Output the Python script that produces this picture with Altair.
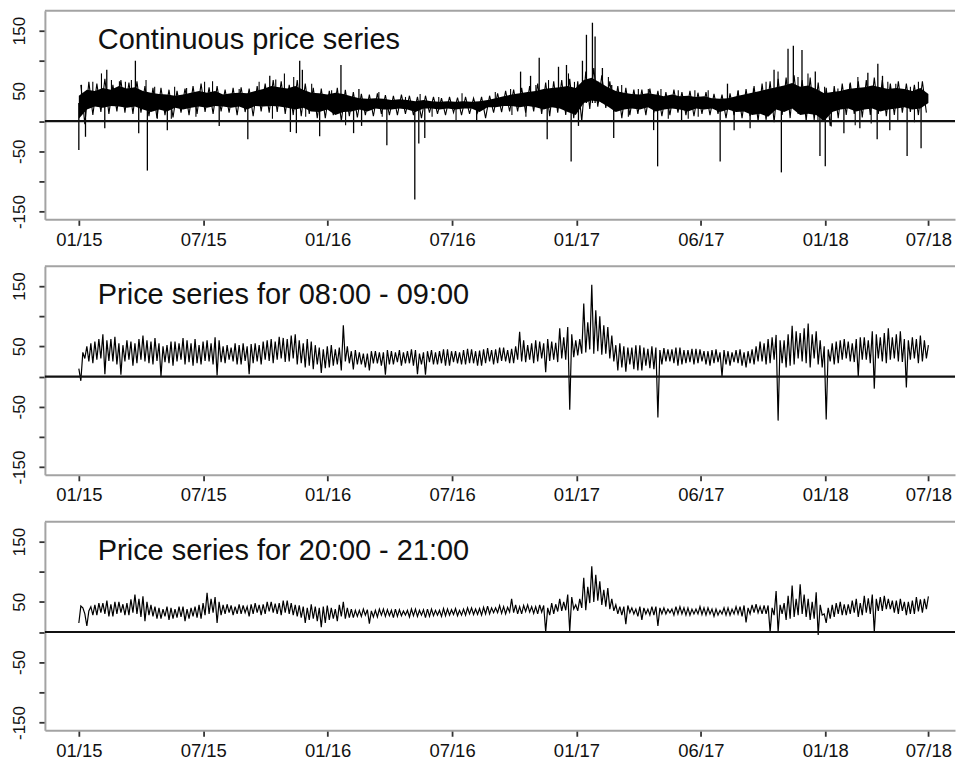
import altair as alt
import pandas as pd

# ---------------- data ----------------
TITLES = ["Continuous price series",
          "Price series for 08:00 - 09:00",
          "Price series for 20:00 - 21:00"]
TICK_POS = [0, 187, 374, 561, 748, 935, 1122, 1277]
TICK_LABELS = ["01/15", "07/15", "01/16", "07/16", "01/17", "06/17", "01/18", "07/18"]
Y_TICKS = [-150, -100, -50, 0, 50, 100, 150]
N_DAYS = 1277

# panel 1: dense hourly band (upper / lower edge of the solid core)
hi1 = [42, 52, 50, 55, 52, 58, 54, 56, 50, 47, 45, 44, 42, 44, 47, 50, 47, 50, 44, 46,
       47, 46, 50, 53, 58, 56, 54, 58, 52, 47, 46, 44, 47, 45, 41, 38, 37, 38, 37, 35,
       36, 35, 33, 35, 33, 32, 33, 32, 33, 32, 33, 35, 38, 41, 44, 46, 48, 50, 53, 55,
       56, 58, 55, 68, 72, 64, 56, 50, 47, 45, 44, 46, 44, 41, 44, 41, 42, 40, 41, 38,
       37, 38, 41, 44, 47, 50, 53, 56, 59, 63, 57, 59, 53, 46, 48, 50, 53, 55, 56, 59,
       56, 53, 55, 53, 50, 55, 45]
lo1 = [4, 19, 24, 22, 25, 24, 22, 24, 19, 15, 19, 16, 22, 19, 22, 24, 22, 25, 24, 22,
       24, 19, 25, 24, 25, 24, 22, 19, 22, 16, 15, 19, 10, 15, 16, 19, 16, 21, 19, 19,
       21, 19, 15, 21, 21, 19, 21, 19, 21, 21, 15, 23, 23, 25, 25, 23, 25, 23, 19, 23,
       21, 15, 10, 30, 34, 32, 24, 15, 19, 21, 19, 23, 16, 19, 21, 19, 16, 21, 19, 21,
       15, 19, 15, 16, 10, 12, 7, 19, 15, 21, 10, 12, 10, 0, 15, 19, 21, 16, 19, 21,
       16, 19, 21, 23, 19, 21, 30]
# ragged outer edge of the hourly band (upper / lower tips between core samples)
up1 = [60, 65, 62, 70, 60, 68, 64, 66, 58, 55, 55, 52, 50, 54, 58, 62, 56, 58, 52, 55,
       56, 54, 58, 62, 68, 66, 60, 68, 62, 55, 54, 50, 55, 52, 48, 45, 44, 46, 43, 42,
       44, 42, 40, 42, 40, 38, 40, 39, 40, 38, 40, 42, 46, 50, 52, 55, 58, 62, 64, 66,
       68, 70, 66, 82, 88, 76, 66, 58, 55, 52, 52, 54, 50, 48, 52, 48, 50, 47, 48, 45,
       44, 46, 50, 53, 58, 62, 66, 70, 72, 76, 68, 72, 64, 55, 58, 62, 64, 66, 68, 72,
       68, 62, 66, 62, 60, 66]
dn1 = [-5, 10, 15, 12, 16, 14, 12, 14, 8, 5, 10, 6, 14, 10, 12, 15, 12, 16, 14, 10,
       15, 8, 16, 14, 15, 12, 10, 8, 12, 5, 5, 10, 0, 8, 6, 10, 8, 12, 10, 10,
       12, 10, 5, 14, 12, 10, 14, 10, 12, 14, 5, 14, 15, 16, 16, 14, 16, 12, 8, 14,
       10, 5, 0, 20, 24, 22, 15, 5, 10, 12, 10, 14, 8, 10, 14, 10, 8, 12, 10, 12,
       5, 10, 5, 8, 0, 4, -2, 10, 5, 12, 0, 2, 0, -8, 5, 10, 12, 6, 10, 12,
       8, 10, 14, 15, 10, 14]
# large spikes of the hourly series (day index, price)
spike_day = [0, 10, 39, 42, 85, 90, 103, 133, 211, 254, 287, 318, 327, 332, 336, 362, 394, 413,
             421, 425, 463, 505, 511, 520, 598, 664, 679, 692, 704, 721, 733, 740, 751, 757,
             763, 772, 776, 787, 801, 804, 864, 870, 906, 964, 975, 985, 1009, 1045, 1056,
             1066, 1074, 1087, 1107, 1114, 1122, 1150, 1174, 1186, 1200, 1201, 1208, 1219,
             1245, 1266]
spike_val = [-48, -26, -12, 85, 100, -20, -82, -15, -8, -30, 75, -18, -20, 100, 85, -25, 93, -20,
             53, -8, -40, -130, -37, -28, 2, 82, 75, 105, -30, 90, 93, -67, -8, 100,
             143, 163, 140, 88, 60, -28, -15, -75, 0, -67, 62, -15, -12, 85, -85,
             120, 125, 118, 82, -58, -75, -20, -12, 80, -30, 95, 75, -15,
             -58, -45]
# smaller hairs sticking out of the band
hair_day = [4, 21, 34, 49, 61, 70, 79, 101, 114, 144, 162, 189, 201, 241, 271, 296, 309, 323,
            350, 380, 118, 139, 176, 291, 341, 401, 451, 491, 513, 541, 576, 626, 649, 687,
            706, 736, 745, 781, 796, 816, 841, 456, 531, 567, 651, 672, 826, 856, 875, 901,
            926, 946, 991, 1014, 1033, 1051, 1081, 1096, 1121, 1141, 1159, 1171, 1216, 1228,
            1250, 1262, 886, 916, 931, 1033, 1111, 1131, 1167, 1191, 1231, 1256]
hair_val = [60, 65, 79, 68, 66, 65, 68, 68, 57, 57, 55, 65, 66, 53, 65, 69, 79, 73,
            62, 51, 4, 4, 7, 4, 7, -7, 48, 40, 45, 40, 46, 48, 53, 60,
            68, 79, 65, 65, 73, 60, 53, 7, 7, 2, 10, 7, 7, 53, 53, 51,
            51, 51, 51, 54, 65, 82, 73, 79, 57, 54, 62, 73, 65, 62,
            57, 65, 4, 4, 7, 2, 0, -9, -7, -4, 2, -2]
SPIKE_BASE = 30

# panel 2: 08:00-09:00 daily series, four readings per sampling step
hi2 = [13, 50, 58, 70, 62, 55, 60, 55, 68, 58, 55, 52, 58, 64, 55, 52, 60, 65, 50, 48,
       52, 50, 55, 58, 62, 66, 62, 70, 55, 58, 48, 50, 45, 85, 42, 40, 38, 42, 40, 42,
       44, 42, 44, 40, 44, 42, 45, 42, 44, 45, 43, 47, 45, 48, 46, 74, 52, 60, 55, 58,
       80, 82, 60, 121, 152, 100, 82, 52, 50, 48, 52, 46, 48, 47, 45, 48, 44, 46, 42, 44,
       40, 42, 44, 40, 45, 58, 62, 69, 60, 84, 72, 88, 75, 50, 55, 60, 58, 62, 65, 75,
       65, 80, 70, 62, 65, 68, 52]
lo2 = [-7, 25, 28, 4, 25, 3, 28, 22, 25, 20, 0, 22, 25, 20, 18, 20, 25, 2, 22, 25,
       20, 4, 25, 28, 22, 30, 25, 20, 15, 12, 6, 15, 20, 25, 12, 20, 10, 22, 3, 20,
       18, 22, 4, 3, 20, 22, 18, 22, 20, 22, 18, 25, 22, 25, 22, 25, 28, 25, 7, 28,
       30, -55, 35, 40, 38, 36, 30, 10, 8, 12, 10, 14, -68, 25, 22, 20, 24, 22, 20, 22,
       0, 18, 22, 15, 20, 25, 22, -73, 15, 20, 25, 15, 20, -71, 20, 28, 25, 0, 28, -20,
       25, 28, 25, -18, 30, 25]
hiB2 = [40, 55, 62, 60, 66, 52, 58, 62, 60, 64, 50, 58, 55, 60, 62, 58, 55, 60, 52, 55,
        55, 54, 52, 60, 58, 64, 68, 60, 62, 52, 45, 52, 48, 50, 44, 38, 42, 40, 44, 40,
        40, 45, 38, 42, 40, 45, 42, 40, 46, 42, 45, 44, 48, 44, 50, 60, 55, 58, 62, 56,
        65, 70, 62, 90, 110, 85, 68, 55, 48, 52, 48, 50, 44, 45, 48, 44, 46, 45, 42, 45,
        44, 40, 45, 42, 50, 55, 65, 60, 70, 75, 80, 70, 60, 45, 58, 62, 55, 65, 60, 70,
        72, 65, 75, 60, 62, 60]
loB2 = [30, 22, 30, 26, 20, 25, 18, 28, 22, 26, 24, 18, 28, 24, 22, 26, 20, 24, 28, 20,
        26, 22, 20, 26, 28, 24, 30, 22, 18, 20, 14, 18, 10, 22, 20, 15, 22, 18, 20, 24,
        22, 18, 20, 24, 20, 18, 24, 20, 22, 18, 22, 20, 26, 22, 28, 24, 22, 30, 26, 24,
        28, 32, 38, 45, 42, 38, 25, 15, 20, 10, 18, 12, 20, 25, 18, 22, 20, 25, 18, 24,
        20, 24, 18, 22, 25, 20, 28, 22, 18, 30, 22, 30, 15, 25, 22, 30, 24, 28, 22, 30,
        22, 30, 24, 28, 22, 30]

# panel 3: 20:00-21:00 daily series, four readings per sampling step
hi3 = [15, 10, 45, 48, 46, 50, 48, 62, 59, 45, 40, 42, 38, 42, 40, 45, 65, 58, 45, 44,
       46, 42, 48, 46, 50, 48, 52, 45, 42, 46, 40, 44, 38, 50, 38, 36, 37, 36, 38, 36,
       37, 36, 38, 37, 38, 36, 38, 39, 38, 40, 39, 43, 40, 42, 55, 42, 45, 42, 44, 48,
       55, 62, 45, 90, 109, 84, 73, 45, 42, 40, 42, 38, 42, 40, 38, 42, 40, 38, 40, 38,
       36, 40, 42, 44, 45, 42, 44, 68, 48, 77, 79, 55, 66, 30, 45, 50, 46, 55, 60, 62,
       58, 55, 52, 50, 52, 54, 59]
lo3 = [43, 35, 28, 30, 26, 32, 28, 30, 18, 26, 22, 20, 24, 18, 26, 22, 30, 15, 30, 28,
       30, 26, 32, 30, 32, 28, 30, 26, 15, 22, 8, 20, 18, 22, 24, 26, 14, 25, 26, 24,
       27, 25, 26, 24, 27, 26, 28, 27, 28, 29, 28, 30, 32, 30, 32, 30, 33, 30, 0, 30,
       35, 1, 35, 36, 50, 45, 38, 30, 13, 30, 20, 28, 10, 30, 28, 30, 28, 30, 28, 26,
       30, 28, 30, 16, 32, 30, 0, 0, 20, 25, 30, 20, -5, 15, 25, 28, 30, 25, 32, 0,
       35, 38, 30, 28, 30, 32]
hiB3 = [40, 42, 48, 52, 50, 46, 54, 55, 50, 42, 38, 40, 42, 38, 42, 48, 55, 50, 46, 42,
        44, 46, 45, 50, 47, 52, 48, 44, 40, 42, 42, 40, 45, 40, 36, 38, 35, 38, 37, 38,
        35, 38, 36, 38, 36, 39, 37, 36, 40, 38, 41, 40, 44, 41, 45, 44, 42, 45, 40, 46,
        50, 58, 55, 75, 95, 70, 55, 42, 44, 38, 40, 42, 40, 38, 42, 40, 38, 42, 40, 38,
        40, 38, 42, 40, 46, 44, 40, 45, 60, 55, 62, 50, 45, 40, 48, 46, 52, 48, 56, 55,
        60, 52, 55, 50, 58, 55]
loB3 = [30, 28, 32, 26, 30, 28, 32, 25, 28, 22, 26, 22, 25, 22, 24, 28, 32, 28, 32, 30,
        32, 30, 28, 34, 30, 32, 28, 24, 20, 18, 15, 22, 26, 24, 26, 28, 25, 28, 27, 26,
        28, 27, 28, 26, 28, 27, 29, 28, 30, 29, 30, 32, 31, 33, 30, 34, 31, 33, 28, 34,
        36, 38, 40, 48, 52, 42, 35, 28, 32, 26, 30, 28, 30, 32, 30, 28, 30, 29, 30, 28,
        28, 30, 26, 30, 32, 30, 28, 30, 22, 28, 25, 22, 28, 22, 30, 28, 32, 28, 30, 35,
        38, 32, 35, 30, 34, 38]

# ---------------- style ----------------
FONT = "Liberation Sans"
GREY = "#a3a3a3"
W, H = 912, 209
X_DOMAIN = [-51, 1317]
Y_DOMAIN = [-162.8, 182.8]

step = N_DAYS / (len(hi1) - 1)

band_df = pd.DataFrame({"day": [i * step for i in range(len(hi1))], "lo": lo1, "hi": hi1})
edge_rows = []
for i in range(len(up1)):
    edge_rows.append({"day": (i + 0.25) * step, "price": up1[i]})
    edge_rows.append({"day": (i + 0.75) * step, "price": dn1[i]})
edge_df = pd.DataFrame(edge_rows)
spike_df = pd.DataFrame({"day": spike_day, "val": spike_val,
                         "base": [SPIKE_BASE] * len(spike_day)})
hair_df = pd.DataFrame({"day": hair_day, "val": hair_val,
                        "base": [SPIKE_BASE] * len(hair_day)})


def series(hi, lo, hib, lob):
    rows = []
    for i, v in enumerate(hi):
        rows.append({"day": i * step, "price": v})
        if i < len(lo):
            rows.append({"day": (i + 0.25) * step, "price": lo[i]})
            rows.append({"day": (i + 0.5) * step, "price": hib[i]})
            rows.append({"day": (i + 0.75) * step, "price": lob[i]})
    return pd.DataFrame(rows)


x_label_expr = " : ".join(
    f"datum.value == {p} ? '{l}'" for p, l in zip(TICK_POS, TICK_LABELS)) + " : ''"

xaxis = alt.Axis(values=TICK_POS, labelExpr=x_label_expr, title=None, grid=False,
                 tickSize=6, tickWidth=1.8, tickColor="#333333",
                 domainColor=GREY, domainWidth=2,
                 labelFont=FONT, labelFontSize=18.5, labelColor="#111111",
                 labelBaseline="alphabetic", labelPadding=20,
                 labelOverlap=False, labelFlush=False, labelBound=False)
yaxis = alt.Axis(values=Y_TICKS,
                 labelExpr="abs(datum.value) % 100 == 50 ? '' + datum.value : ''",
                 title=None, grid=False,
                 tickSize=6, tickWidth=1.8, tickColor="#333333",
                 domainColor=GREY, domainWidth=2,
                 labelFont=FONT, labelFontSize=17, labelColor="#111111",
                 labelAngle=270, labelAlign="center", labelBaseline="alphabetic",
                 labelPadding=14, labelOverlap=False, labelFlush=False, labelBound=False)

xscale = alt.Scale(domain=X_DOMAIN, nice=False, zero=False)
yscale = alt.Scale(domain=Y_DOMAIN, nice=False, zero=False)


def X(field):
    return alt.X(f"{field}:Q", scale=xscale, axis=xaxis)


def Y(field):
    return alt.Y(f"{field}:Q", scale=yscale, axis=yaxis)


def decorations(title):
    zero = alt.Chart(pd.DataFrame({"z": [0]})).mark_rule(
        color="#111111", strokeWidth=2.2).encode(y=Y("z"))
    top = alt.Chart(pd.DataFrame({"z": [0]})).mark_rule(
        color=GREY, strokeWidth=2).encode(x=alt.value(0), x2=alt.value(W), y=alt.value(0))
    txt = alt.Chart(pd.DataFrame({"t": [title]})).mark_text(
        align="left", baseline="alphabetic", font=FONT, fontSize=29, color="#111111"
    ).encode(x=alt.value(53), y=alt.value(38), text="t:N")
    return [zero, top, txt]


band = alt.Chart(band_df).mark_area(color="#000000", opacity=1, strokeWidth=0).encode(
    x=X("day"), y=Y("lo"), y2="hi:Q")
edge = alt.Chart(edge_df).mark_line(color="#000000", strokeWidth=1.1).encode(
    x=X("day"), y=Y("price"))
hairs = alt.Chart(hair_df).mark_rule(color="#000000", strokeWidth=1.1).encode(
    x=X("day"), y=Y("val"), y2="base:Q")
spikes = alt.Chart(spike_df).mark_rule(color="#000000", strokeWidth=1.3).encode(
    x=X("day"), y=Y("val"), y2="base:Q")
p1 = alt.layer(band, edge, hairs, spikes, *decorations(TITLES[0])).properties(
    width=W, height=H)

line2 = alt.Chart(series(hi2, lo2, hiB2, loB2)).mark_line(
    color="#000000", strokeWidth=1.2).encode(x=X("day"), y=Y("price"))
p2 = alt.layer(line2, *decorations(TITLES[1])).properties(width=W, height=H)

line3 = alt.Chart(series(hi3, lo3, hiB3, loB3)).mark_line(
    color="#000000", strokeWidth=1.2).encode(x=X("day"), y=Y("price"))
p3 = alt.layer(line3, *decorations(TITLES[2])).properties(width=W, height=H)

chart = alt.vconcat(p1, p2, p3, spacing=47, bounds="flush").properties(
    padding={"left": 11, "top": 9, "right": 0, "bottom": 0},
    background="white",
).configure_view(stroke=None)

chart.save("out.html", embed_options={"renderer": "svg", "actions": False})
